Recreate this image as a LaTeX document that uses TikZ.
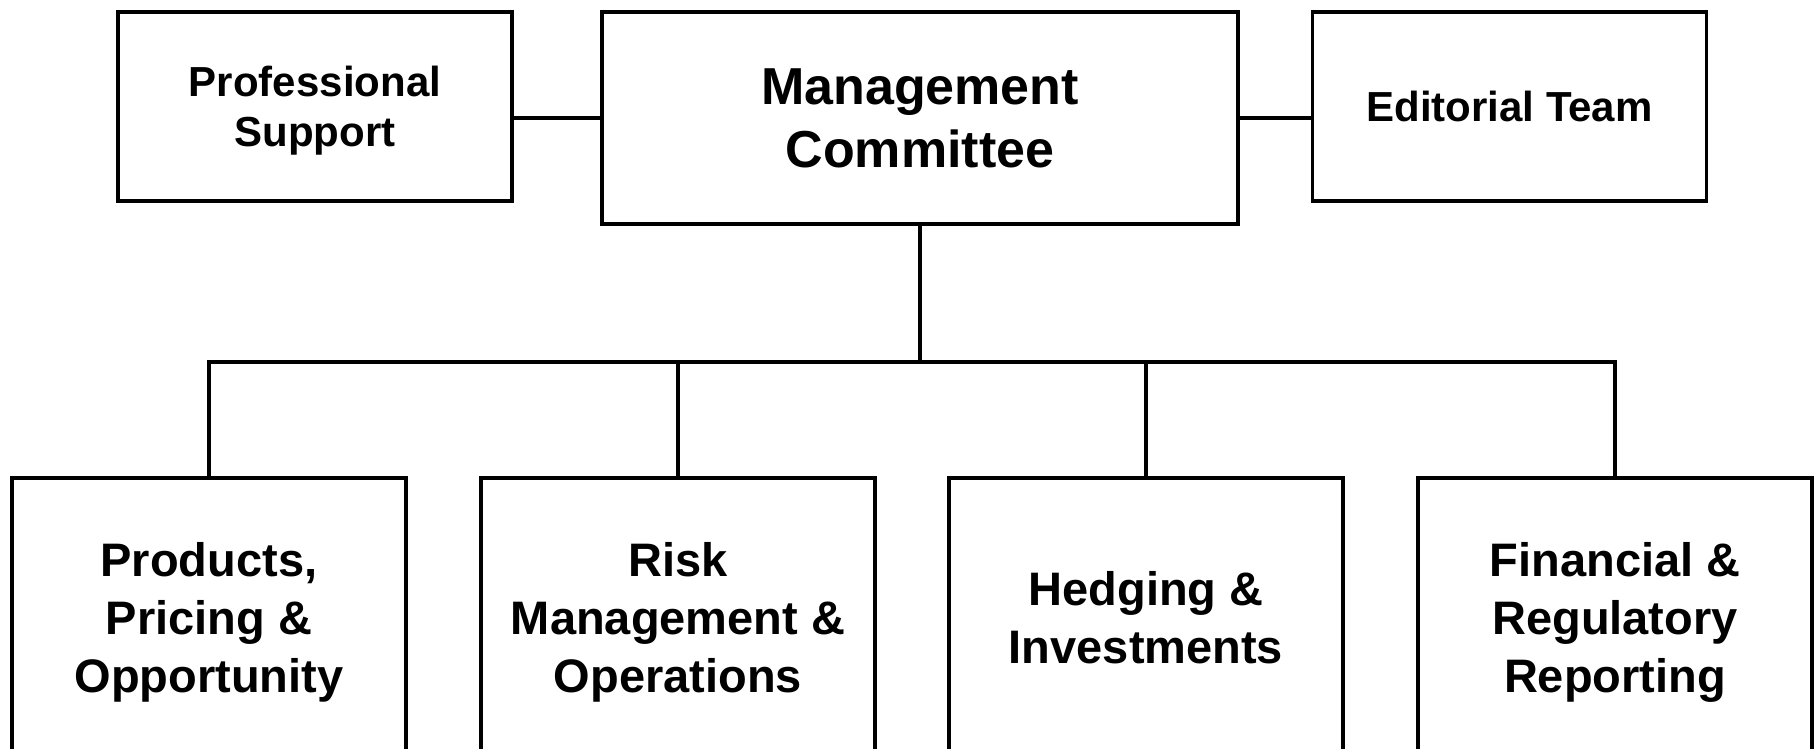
\documentclass[tikz,border=0pt]{standalone}
\usepackage{fontspec}
\setmainfont{Liberation Sans}
\begin{document}
\begin{tikzpicture}[x=1pt,y=-1pt,
  line width=3.5pt,
  unit/.style={draw=black, rectangle, inner sep=0pt, align=center,
    text depth=0pt, font=\bfseries},
  side/.style={unit, minimum width=394, minimum height=189,
    font=\bfseries\fontsize{42}{50}\selectfont},
  head/.style={unit, minimum width=636, minimum height=212,
    font=\bfseries\fontsize{52}{63}\selectfont},
  dept/.style={unit, minimum width=394, minimum height=278,
    font=\bfseries\fontsize{47}{58}\selectfont},
  link/.style={draw=black, line width=3.5pt, line join=miter}]
  \useasboundingbox (0,0) rectangle (1814,748);
  \fill[white] (0,0) rectangle (1814,748);
  \clip (0,0) rectangle (1814,748);

  % top row
  \node[side] (prof) at (315,106.5) {Professional\\Support};
  \node[head] (mgmt) at (920,118) {Management\\Committee};
  \node[side] (edit) at (1509.5,106.5) {Editorial Team};

  % departments
  \node[dept] (d1) at (209,617) {Products,\\Pricing \&\\Opportunity};
  \node[dept] (d2) at (678,617) {Risk\\Management \&\\Operations};
  \node[dept] (d3) at (1146,617) {Hedging \&\\Investments};
  \node[dept] (d4) at (1615,617) {Financial \&\\Regulatory\\Reporting};

  \coordinate (bus) at (920,362);

  % connectors
  \draw[link] (mgmt.west) -- (prof.east |- mgmt.west);
  \draw[link] (mgmt.east) -- (edit.west |- mgmt.east);
  \draw[link] (mgmt.south) -- (bus);
  \draw[link] (d1.north) |- (bus) -| (d4.north);
  \draw[link] (d2.north) -- (d2.north |- bus);
  \draw[link] (d3.north) -- (d3.north |- bus);
\end{tikzpicture}
\end{document}
